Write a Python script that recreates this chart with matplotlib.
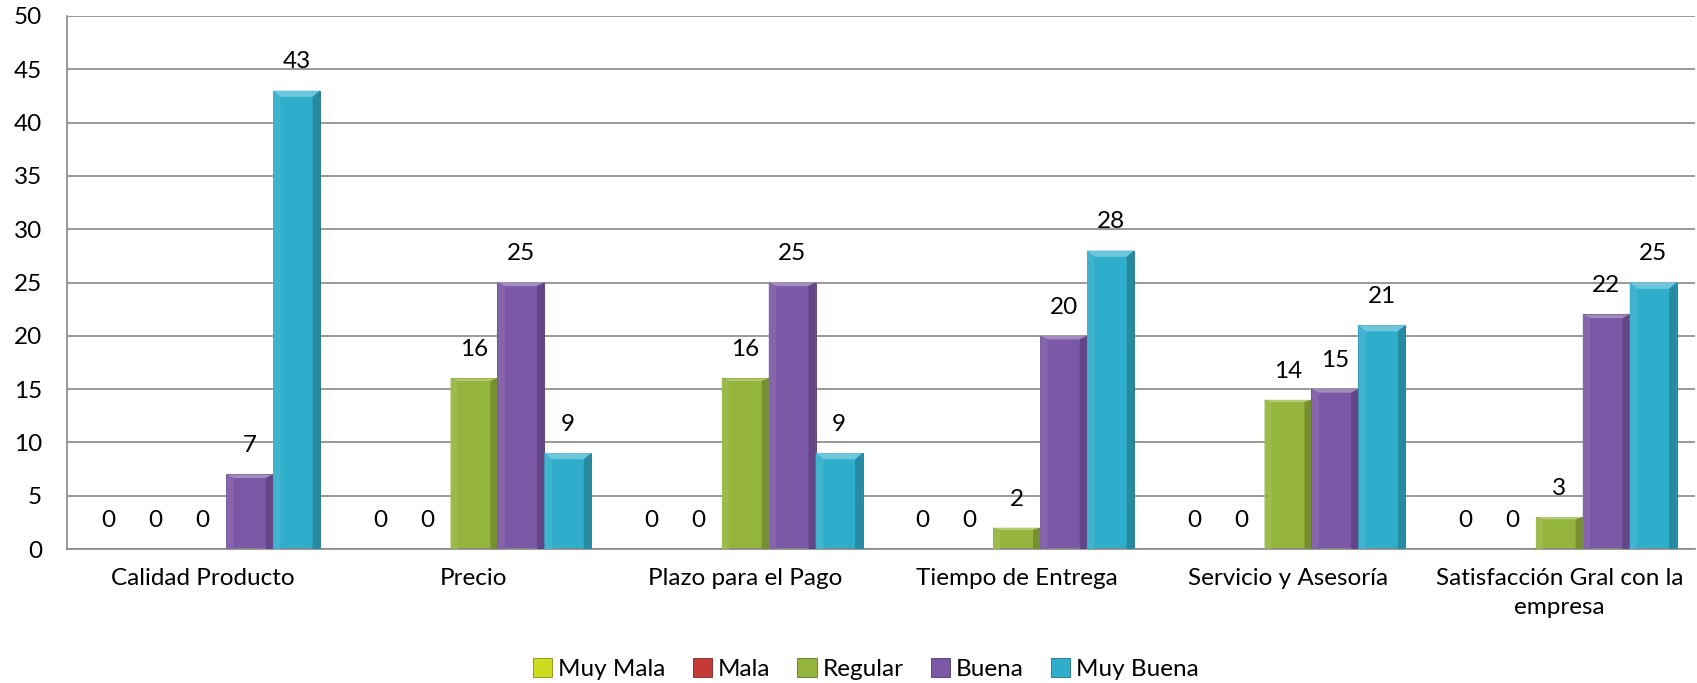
import numpy as np
import matplotlib
matplotlib.use("Agg")
import matplotlib.pyplot as plt
from matplotlib.patches import Polygon
from matplotlib.colors import to_rgb

categories = ["Calidad Producto", "Precio", "Plazo para el Pago",
              "Tiempo de Entrega", "Servicio y Asesoría",
              "Satisfacción Gral con la\nempresa"]
series_names = ["Muy Mala", "Mala", "Regular", "Buena", "Muy Buena"]
muy_mala = [0, 0, 0, 0, 0, 0]
mala = [0, 0, 0, 0, 0, 0]
regular = [0, 16, 16, 2, 14, 3]
buena = [7, 25, 25, 20, 15, 22]
muy_buena = [43, 9, 9, 28, 21, 25]
series_values = [muy_mala, mala, regular, buena, muy_buena]
colors = ["#CCDC1E", "#C33A36", "#94B43C", "#7B58A6", "#2FAECB"]

plt.rcParams["font.family"] = ["Lato", "DejaVu Sans"]
FS = 17.5

fig = plt.figure(figsize=(16.97, 6.83), dpi=100)
ax = fig.add_axes([67 / 1697, 1 - 549 / 683, (1695 - 67) / 1697, (549 - 16) / 683])

n = len(series_names)
x = np.arange(len(categories))
w = 0.173


def shade(c, f):
    r = np.array(to_rgb(c))
    if f >= 0:
        return tuple(r + (1 - r) * f)
    return tuple(r * (1 + f))


def bevel(ax, rect, color):
    x0, y0 = rect.get_x(), rect.get_y()
    bw, bh = rect.get_width(), rect.get_height()
    if bh <= 0:
        return
    # bevel size in data units, derived from display pixels
    inv = ax.transData.inverted()
    p0 = inv.transform((0, 0))
    p1 = inv.transform((7, 7))
    dx, dy = p1[0] - p0[0], p1[1] - p0[1]
    dy = min(dy, bh / 2)
    x1, y1 = x0 + bw, y0 + bh
    top = Polygon([(x0, y1), (x1, y1), (x1 - dx, y1 - dy), (x0 + dx, y1 - dy)],
                  closed=True, facecolor=shade(color, 0.3), edgecolor="none", zorder=3)
    left = Polygon([(x0, y0), (x0, y1), (x0 + dx, y1 - dy), (x0 + dx, y0)],
                   closed=True, facecolor=shade(color, 0.08), edgecolor="none", zorder=3)
    right = Polygon([(x1, y0), (x1, y1), (x1 - dx, y1 - dy), (x1 - dx, y0)],
                    closed=True, facecolor=shade(color, -0.2), edgecolor="none", zorder=3)
    for p in (top, left, right):
        ax.add_patch(p)


for i, (name, vals, c) in enumerate(zip(series_names, series_values, colors)):
    pos = x + (i - (n - 1) / 2) * w
    bars = ax.bar(pos, vals, width=w, color=c, edgecolor=shade(c, -0.35),
                  linewidth=0.6, label=name, zorder=2)
    fig.canvas.draw()
    for rect, v in zip(bars, vals):
        bevel(ax, rect, c)
        ax.text(rect.get_x() + rect.get_width() / 2, v + 1.7, f"{v}",
                ha="center", va="bottom", fontsize=FS, color="black", zorder=4)

ax.set_xlim(-0.5, len(categories) - 0.5)
ax.set_ylim(0, 50)
ax.set_yticks(range(0, 51, 5))
ax.set_xticks(x)
ax.set_xticklabels(categories, fontsize=FS, linespacing=1.45)
ax.tick_params(axis="both", length=0, labelsize=FS)
ax.tick_params(axis="x", pad=14)
ax.tick_params(axis="y", pad=18)
ax.yaxis.grid(True, color="#888888", linewidth=1.2, zorder=0)
ax.set_axisbelow(True)
for s in ("top", "right"):
    ax.spines[s].set_visible(False)
for s in ("left", "bottom"):
    ax.spines[s].set_color("#888888")
    ax.spines[s].set_linewidth(1.2)

handles, labels = ax.get_legend_handles_labels()
fig.legend(handles, labels, loc="center", bbox_to_anchor=(866 / 1697, 1 - 669 / 683),
           ncol=5, frameon=False, fontsize=FS, handlelength=0.8, handleheight=0.8,
           handletextpad=0.25, columnspacing=1.1)

fig.savefig("out.png", dpi=100)
